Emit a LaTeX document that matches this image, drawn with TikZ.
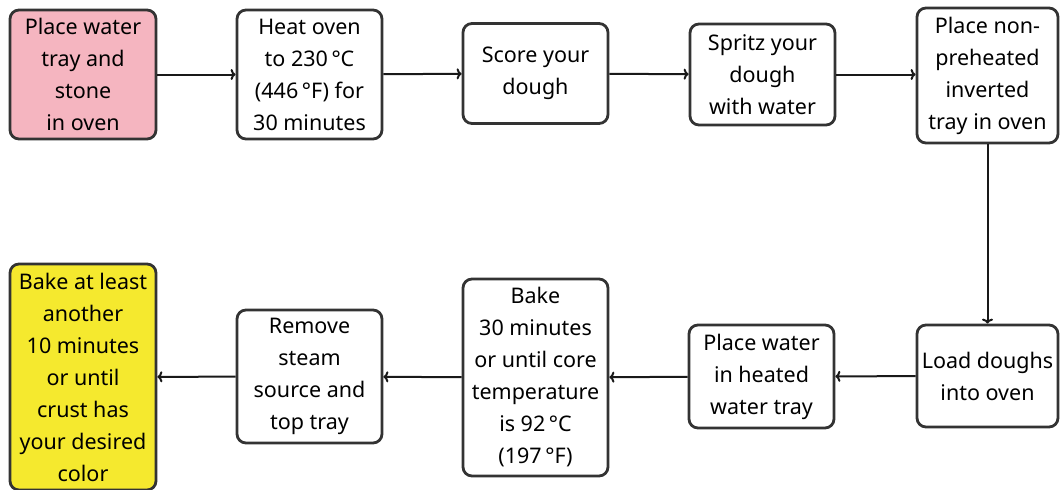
\documentclass[tikz,border=0pt]{standalone}
\usepackage{fontspec}
\setmainfont{Noto Sans}
\usetikzlibrary{arrows.meta}
\definecolor{pinkfill}{HTML}{F5B5C0}
\definecolor{yellowfill}{HTML}{F5E92E}
\definecolor{edge}{HTML}{333333}
\begin{document}
\begin{tikzpicture}[x=1pt,y=-1pt,
  box/.style={draw=edge, line width=2.8pt, rounded corners=9pt, fill=white, align=center,
    inner sep=0pt, font=\fontsize{21.5}{32}\selectfont},
  conn/.style={line width=2pt, draw=black!90, -{To[length=5pt,width=11pt]}}]
\useasboundingbox (0,0) rectangle (1061,490);
\node[box, fill=pinkfill, minimum width=146pt, minimum height=129pt] (a) at (83,74.5) {Place water\\tray and\\stone\\in oven};
\node[box, minimum width=145pt, minimum height=129pt] (b) at (309.5,74.5) {Heat oven\\to 230\,°C\\(446\,°F) for\\30 minutes};
\node[box, minimum width=145pt, minimum height=100pt] (c) at (535.5,73.5) {Score your\\dough};
\node[box, minimum width=145pt, minimum height=101pt] (d) at (762.5,74.5) {Spritz your\\dough\\with water};
\node[box, minimum width=141pt, minimum height=135pt] (e) at (987.5,75.5) {Place non-\\preheated\\inverted\\tray in oven};
\node[box, minimum width=141pt, minimum height=102pt] (f) at (987.5,376) {Load doughs\\into oven};
\node[box, minimum width=145pt, minimum height=103pt] (g) at (761.5,376.5) {Place water\\in heated\\water tray};
\node[box, minimum width=145pt, minimum height=197pt] (h) at (535.5,377.5) {Bake\\30 minutes\\or until core\\temperature\\is 92\,°C\\(197\,°F)};
\node[box, minimum width=145pt, minimum height=133pt] (i) at (309.5,376.5) {Remove\\steam\\source and\\top tray};
\node[box, fill=yellowfill, minimum width=146pt, minimum height=226pt] (j) at (83,377) {Bake at least\\another\\10 minutes\\or until\\crust has\\your desired\\color};
\draw[conn] (a) -- (b);
\draw[conn] (b) -- (c);
\draw[conn] (c) -- (d);
\draw[conn] (d.east) -- (e.west |- d.east);
\draw[conn] (e) -- (f);
\draw[conn] (f) -- (g);
\draw[conn] (g) -- (h);
\draw[conn] (h) -- (i);
\draw[conn] (i) -- (j);
\end{tikzpicture}
\end{document}
